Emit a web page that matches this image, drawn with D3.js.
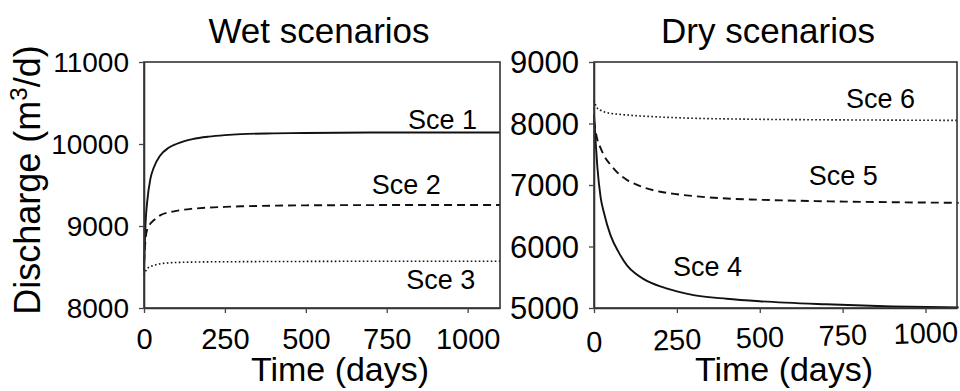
<!DOCTYPE html>
<html>
<head>
<meta charset="utf-8">
<script src="https://cdn.jsdelivr.net/npm/d3@7/dist/d3.min.js"></script>
<style>
  html, body { margin: 0; padding: 0; background: #fff; }
  svg { display: block; font-family: "Liberation Sans", Arial, Helvetica, sans-serif; }
</style>
</head>
<body>
<svg id="chart" width="960" height="391"></svg>
<script>
// Simulated discharge (m3/d) over time for six recharge scenarios
const timeDays = [0, 5, 10, 20, 30, 50, 75, 100, 125, 150, 200, 250, 300, 400, 500, 700, 900, 1100];

// Wet scenarios
const sce1 = [8450, 9050, 9300, 9580, 9710, 9860, 9950, 10000, 10035, 10060, 10090, 10108, 10120, 10130, 10135, 10140, 10140, 10140];
const sce2 = [8550, 8850, 8960, 9030, 9070, 9130, 9165, 9185, 9200, 9210, 9225, 9233, 9240, 9248, 9252, 9255, 9256, 9257];
const sce3 = [8400, 8450, 8480, 8505, 8520, 8540, 8550, 8555, 8558, 8560, 8563, 8564, 8565, 8567, 8568, 8570, 8570, 8570];

// Dry scenarios
const sce4 = [8150, 7700, 7300, 6800, 6550, 6180, 5900, 5690, 5560, 5470, 5350, 5270, 5210, 5150, 5110, 5060, 5025, 5010];
const sce5 = [8050, 7870, 7740, 7600, 7480, 7330, 7180, 7080, 7015, 6960, 6890, 6850, 6820, 6780, 6760, 6735, 6720, 6710];
const sce6 = [8380, 8300, 8250, 8215, 8190, 8165, 8150, 8138, 8128, 8120, 8105, 8094, 8085, 8075, 8068, 8060, 8055, 8050];

const timeTicks = [0, 250, 500, 750, 1000];
const wetTicks = [8000, 9000, 10000, 11000];
const dryTicks = [5000, 6000, 7000, 8000, 9000];

const svg = d3.select("#chart");

const dash = { solid: null, dashed: "8,5", dotted: "1.6,2.4" };

function panel(opts) {
  const x = d3.scaleLinear().domain(opts.xDomain).range(opts.xRange);
  const y = d3.scaleLinear().domain(opts.yDomain).range([308, 62]);
  const g = svg.append("g");

  // curves
  const line = d3.line().x((d, i) => x(timeDays[i])).y(d => y(d)).curve(d3.curveMonotoneX);
  opts.series.forEach(s => {
    g.append("path")
      .datum(s.values)
      .attr("d", line)
      .attr("fill", "none")
      .attr("stroke", "#111")
      .attr("stroke-width", s.style === "dotted" ? 1.6 : 1.9)
      .attr("stroke-dasharray", dash[s.style]);
  });

  // frame
  g.append("rect")
    .attr("x", x.range()[0]).attr("y", 62)
    .attr("width", x.range()[1] - x.range()[0]).attr("height", 308 - 62)
    .attr("fill", "none").attr("stroke", "#333").attr("stroke-width", 1.6);

  // y axis
  const ya = g.append("g")
    .attr("transform", `translate(${x.range()[0]},0)`)
    .call(d3.axisLeft(y).tickValues(opts.yTicks).tickFormat(d3.format("d")).tickSize(5).tickSizeOuter(0));
  ya.attr("font-family", null);
  ya.select(".domain").attr("stroke", "#333").attr("stroke-width", 1.6);
  ya.selectAll(".tick line").attr("stroke", "#444").attr("stroke-width", 1.3);
  ya.selectAll(".tick text")
    .attr("x", -15).attr("dy", "0.34em")
    .attr("font-size", opts.yFont).attr("fill", "#000");

  // x axis
  const xa = g.append("g")
    .attr("transform", "translate(0,308)")
    .call(d3.axisBottom(x).tickValues(timeTicks).tickFormat(d3.format("d")).tickSize(5).tickSizeOuter(0));
  xa.attr("font-family", null);
  xa.select(".domain").attr("stroke", "#333").attr("stroke-width", 1.6);
  xa.selectAll(".tick line").attr("stroke", "#444").attr("stroke-width", 1.3);
  const labelY = d => opts.xLabelY - opts.xTilt * (x(d) - x.range()[0]);
  xa.selectAll(".tick text")
    .attr("dy", 0)
    .attr("font-size", opts.xFont).attr("fill", "#000")
    .attr("y", labelY)
    .attr("transform", d => opts.xTilt
      ? `rotate(${-Math.atan(opts.xTilt) * 180 / Math.PI},0,${labelY(d)})`
      : null);

  // titles
  g.append("text")
    .attr("x", opts.titleX).attr("y", 43)
    .attr("text-anchor", "middle").attr("font-size", 35)
    .text(opts.title);
  g.append("text")
    .attr("x", opts.xTitleX).attr("y", 381)
    .attr("text-anchor", "middle").attr("font-size", 34)
    .text("Time (days)");

  // scenario labels, anchored in data units
  opts.labels.forEach(l => {
    g.append("text")
      .attr("x", x(l.t)).attr("y", y(l.q))
      .attr("font-size", 27)
      .text(l.name);
  });
}

panel({
  title: "Wet scenarios", titleX: 319, xTitleX: 340,
  xDomain: [0, 1100], xRange: [144, 500],
  yDomain: [8000, 11000], yTicks: wetTicks,
  yFont: 28, xFont: 29, xLabelY: 41, xTilt: 0,
  series: [
    { values: sce1, style: "solid" },
    { values: sce2, style: "dashed" },
    { values: sce3, style: "dotted" }
  ],
  labels: [
    { name: "Sce 1", t: 816, q: 10183 },
    { name: "Sce 2", t: 704, q: 9390 },
    { name: "Sce 3", t: 810, q: 8232 }
  ]
});

panel({
  title: "Dry scenarios", titleX: 768, xTitleX: 784,
  xDomain: [0, 1095], xRange: [594, 957],
  yDomain: [5000, 9000], yTicks: dryTicks,
  yFont: 31, xFont: 29, xLabelY: 44, xTilt: 0.027,
  series: [
    { values: sce4, style: "solid" },
    { values: sce5, style: "dashed" },
    { values: sce6, style: "dotted" }
  ],
  labels: [
    { name: "Sce 6", t: 760, q: 8252 },
    { name: "Sce 5", t: 648, q: 7000 },
    { name: "Sce 4", t: 238, q: 5520 }
  ]
});

// shared y-axis title
const yTitle = svg.append("text")
  .attr("transform", "translate(40,180) rotate(-90)")
  .attr("text-anchor", "middle")
  .attr("font-size", 36);
yTitle.append("tspan").text("Discharge (m");
yTitle.append("tspan").attr("font-size", 24).attr("dy", -13).text("3");
yTitle.append("tspan").attr("dy", 13).text("/d)");
</script>
</body>
</html>
